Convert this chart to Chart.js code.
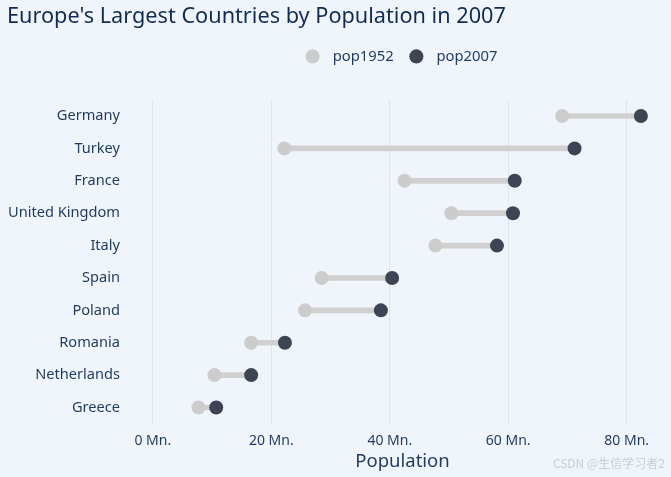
<!DOCTYPE html>
<html lang="en">
<head>
<meta charset="UTF-8">
<title>Europe's Largest Countries by Population in 2007</title>
<script src="https://cdn.jsdelivr.net/npm/chart.js"></script>
<style>
    body { margin: 0; background: #f0f5fc; }
    .box { position: relative; width: 671px; height: 477px; }
    .marca { position: absolute; right: 6px; bottom: 6px; font: 12px "Noto Sans CJK SC", sans-serif; color: #c9ced6; }
</style>
</head>
<body>
<div class="box">
    <canvas id="chartPop"></canvas>
    <span class="marca">CSDN @生信学习者2</span>
</div>
<script>
    // dados (milhoes)
    var paises = ['Germany', 'Turkey', 'France', 'United Kingdom', 'Italy', 'Spain', 'Poland', 'Romania', 'Netherlands', 'Greece'];
    var pop1952 = [69.1, 22.2, 42.5, 50.4, 47.7, 28.5, 25.7, 16.6, 10.4, 7.7];
    var pop2007 = [82.4, 71.2, 61.1, 60.8, 58.1, 40.4, 38.5, 22.3, 16.6, 10.7];
    var ticksX = [0, 20, 40, 60, 80];

    var corTexto = '#1d3a5f';
    var faixa = paises.map(function (p, i) { return [pop1952[i], pop2007[i]]; });

    // espaco extra abaixo da legenda
    var espacoLegenda = {
        id: 'espacoLegenda',
        beforeInit: function (chart) {
            var fitOriginal = chart.legend.fit;
            chart.legend.fit = function () {
                fitOriginal.bind(chart.legend)();
                this.height += 26;
            };
        }
    };

    const ctx = document.getElementById('chartPop');

    new Chart(ctx, {
        type: 'bar',
        data: {
            labels: paises,
            datasets: [{
                label: 'faixa',
                data: faixa,
                backgroundColor: '#d0d0d0',
                barThickness: 5,
                order: 3
            }, {
                type: 'line',
                label: 'pop1952',
                data: pop1952,
                indexAxis: 'y',
                showLine: false,
                pointRadius: 7,
                pointHoverRadius: 7,
                pointBorderWidth: 0,
                backgroundColor: '#cccccc',
                borderColor: '#cccccc',
                order: 2
            }, {
                type: 'line',
                label: 'pop2007',
                data: pop2007,
                indexAxis: 'y',
                showLine: false,
                pointRadius: 7,
                pointHoverRadius: 7,
                pointBorderWidth: 0,
                backgroundColor: '#3d4454',
                borderColor: '#3d4454',
                order: 1
            }]
        },
        plugins: [espacoLegenda],
        options: {
            indexAxis: 'y',
            responsive: true,
            maintainAspectRatio: false,
            animation: false,
            layout: { padding: { left: 7, right: 6, top: 4, bottom: 6 } },
            plugins: {
                title: {
                    display: true,
                    text: "Europe's Largest Countries by Population in 2007",
                    align: 'start',
                    color: '#0f2d52',
                    font: { family: 'Noto Sans', size: 21.7, weight: 'normal' },
                    padding: { top: 0, bottom: 9 }
                },
                legend: {
                    fullSize: false,
                    labels: {
                        usePointStyle: true,
                        pointStyle: 'circle',
                        boxWidth: 10,
                        boxHeight: 10,
                        padding: 10,
                        color: corTexto,
                        font: { family: 'Noto Sans', size: 14.8 },
                        filter: function (item) { return item.datasetIndex !== 0; },
                        sort: function (a, b) { return a.datasetIndex - b.datasetIndex; },
                        generateLabels: function (chart) {
                            var itens = Chart.defaults.plugins.legend.labels.generateLabels(chart);
                            itens.forEach(function (it) {
                                it.text = '  ' + it.text + (it.datasetIndex === 1 ? '  ' : '');
                            });
                            return itens;
                        }
                    }
                },
                tooltip: { enabled: false }
            },
            scales: {
                x: {
                    type: 'linear',
                    min: -2,
                    max: 86.3,
                    afterBuildTicks: function (scale) {
                        scale.ticks = ticksX.map(function (v) { return { value: v }; });
                    },
                    grid: { color: '#dfe5ee', drawTicks: false },
                    border: { display: false },
                    ticks: {
                        color: corTexto,
                        padding: 9,
                        font: { family: 'Noto Sans', size: 14 },
                        callback: function (v) { return v + ' Mn.'; }
                    },
                    title: {
                        display: true,
                        text: 'Population',
                        color: corTexto,
                        padding: { top: -6, bottom: 0 },
                        font: { family: 'Noto Sans', size: 18.5, lineHeight: 1 }
                    }
                },
                y: {
                    type: 'category',
                    grid: { display: false, drawTicks: false },
                    border: { display: false },
                    afterFit: function (scale) { scale.width = 134; },
                    ticks: {
                        color: corTexto,
                        padding: 21,
                        font: { family: 'Noto Sans', size: 14.6 }
                    }
                }
            }
        }
    });
</script>
</body>
</html>
